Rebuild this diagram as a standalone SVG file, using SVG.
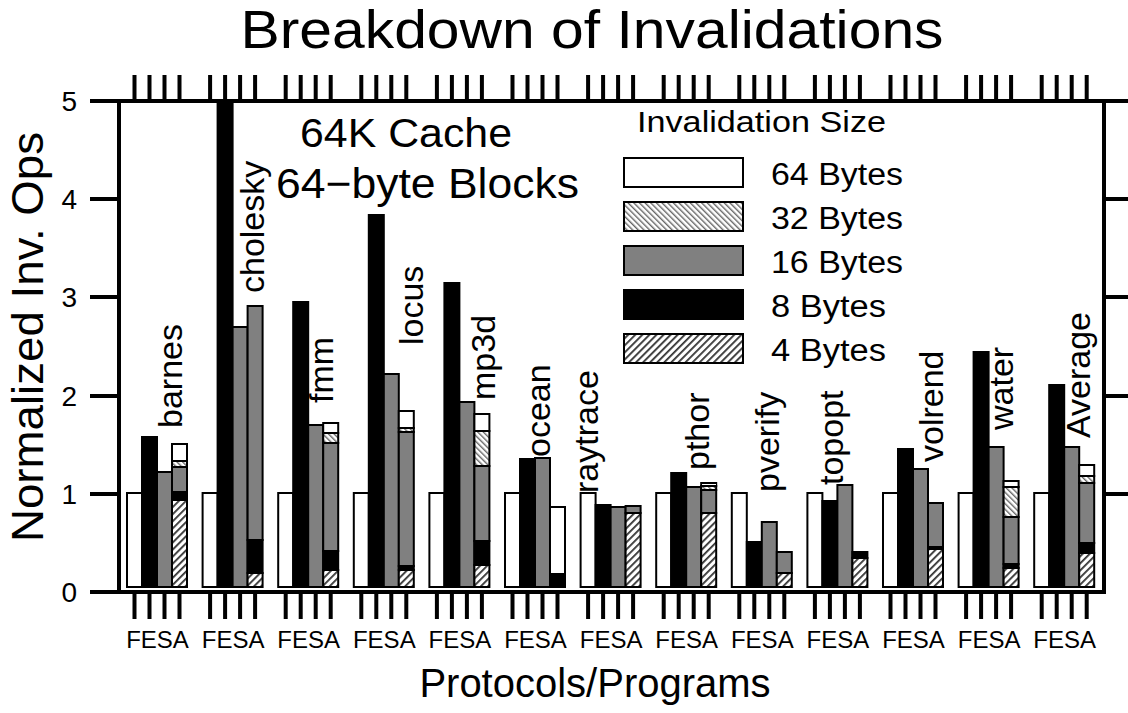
<svg xmlns="http://www.w3.org/2000/svg" xmlns:xlink="http://www.w3.org/1999/xlink" width="1128" height="713" viewBox="0 0 1128 713">
  <style>
    text { font-family: "Liberation Sans", Arial, sans-serif; fill: #000; }
    .title { font-size: 54px; text-anchor: middle; }
    .axlabel { font-size: 42px; text-anchor: middle; }
    .ticklbl { font-size: 28px; text-anchor: end; }
    .fesa { font-size: 24px; text-anchor: middle; }
    .prog { font-size: 34px; }
    .note { font-size: 40px; }
    .legtitle { font-size: 29px; }
    .legtext { font-size: 31px; }
    .axis { stroke: #000; stroke-width: 4; fill: none; }
    .tick { stroke: #000; stroke-width: 4; fill: none; }
    .w { fill: #fff; stroke: #000; stroke-width: 2; }
    .b { fill: #000; stroke: #000; stroke-width: 2; }
    .g { fill: #808080; stroke: #000; stroke-width: 2; }
    .h32 { fill: url(#hatch32); stroke: #000; stroke-width: 2; }
    .h4 { fill: url(#hatch4); stroke: #000; stroke-width: 2; }
  </style>
  <defs>
    <pattern id="hatch32" patternUnits="userSpaceOnUse" width="4" height="4" patternTransform="rotate(-45)">
      <rect width="4" height="4" fill="#fff"/>
      <rect width="1.4" height="4" fill="#666"/>
    </pattern>
    <pattern id="hatch4" patternUnits="userSpaceOnUse" width="5" height="5" patternTransform="rotate(45)">
      <rect width="5" height="5" fill="#fff"/>
      <rect width="1.8" height="5" fill="#333"/>
    </pattern>
    <!-- one tick per bar slot (F, E, S, A) -->
    <path id="tickset" class="tick" d="M7.5,0v25M22.5,0v25M37.5,0v25M52.5,0v25"/>
  </defs>

  <rect width="1128" height="713" fill="#fff"/>

  <text class="title" x="592" y="48" textLength="703" lengthAdjust="spacingAndGlyphs">Breakdown of Invalidations</text>

  <!-- frame and value axis -->
  <g id="axes">
    <path class="axis" d="M90,101H1128M119,101V594M1104,101V594M90,592H1104"/>
    <path class="tick" d="M90,199H119M90,297H119M90,396H119M90,494H119M1104,199H1128M1104,297H1128M1104,396H1128M1104,494H1128"/>
    <text class="ticklbl" x="77" y="111">5</text>
    <text class="ticklbl" x="77" y="209">4</text>
    <text class="ticklbl" x="77" y="307">3</text>
    <text class="ticklbl" x="77" y="406">2</text>
    <text class="ticklbl" x="77" y="504">1</text>
    <text class="ticklbl" x="77" y="602">0</text>
    <text class="axlabel" transform="translate(43,337) rotate(-90)" style="font-size:44px" textLength="410" lengthAdjust="spacingAndGlyphs">Normalized Inv. Ops</text>
    <text class="axlabel" x="595" y="697" style="font-size:40px">Protocols/Programs</text>
  </g>

  <!-- category ticks, top and bottom -->
  <g id="category-ticks">
    <use xlink:href="#tickset" x="127" y="75"/><use xlink:href="#tickset" x="127" y="594"/>
    <use xlink:href="#tickset" x="202.6" y="75"/><use xlink:href="#tickset" x="202.6" y="594"/>
    <use xlink:href="#tickset" x="278.2" y="75"/><use xlink:href="#tickset" x="278.2" y="594"/>
    <use xlink:href="#tickset" x="353.8" y="75"/><use xlink:href="#tickset" x="353.8" y="594"/>
    <use xlink:href="#tickset" x="429.4" y="75"/><use xlink:href="#tickset" x="429.4" y="594"/>
    <use xlink:href="#tickset" x="505" y="75"/><use xlink:href="#tickset" x="505" y="594"/>
    <use xlink:href="#tickset" x="580.6" y="75"/><use xlink:href="#tickset" x="580.6" y="594"/>
    <use xlink:href="#tickset" x="656.2" y="75"/><use xlink:href="#tickset" x="656.2" y="594"/>
    <use xlink:href="#tickset" x="731.8" y="75"/><use xlink:href="#tickset" x="731.8" y="594"/>
    <use xlink:href="#tickset" x="807.4" y="75"/><use xlink:href="#tickset" x="807.4" y="594"/>
    <use xlink:href="#tickset" x="883" y="75"/><use xlink:href="#tickset" x="883" y="594"/>
    <use xlink:href="#tickset" x="958.6" y="75"/><use xlink:href="#tickset" x="958.6" y="594"/>
    <use xlink:href="#tickset" x="1034.2" y="75"/><use xlink:href="#tickset" x="1034.2" y="594"/>
  </g>

  <!-- bar groups: F, E, S, A (A stacked by invalidation size) -->
  <g id="barnes" transform="translate(127,0)">
    <rect class="w" x="0" y="493" width="15" height="94"/>
    <rect class="b" x="15" y="437" width="15" height="150"/>
    <rect class="g" x="30" y="472" width="15" height="115"/>
    <rect class="w" x="45" y="444" width="15" height="17"/>
    <rect class="h32" x="45" y="461" width="15" height="6"/>
    <rect class="g" x="45" y="467" width="15" height="25"/>
    <rect class="b" x="45" y="492" width="15" height="8"/>
    <rect class="h4" x="45" y="500" width="15" height="87"/>
    <text class="fesa" x="30.5" y="648">FESA</text>
  </g>
  <text class="prog" transform="translate(182,428) rotate(-90)">barnes</text>

  <g id="cholesky" transform="translate(202.6,0)">
    <rect class="w" x="0" y="493" width="15" height="94"/>
    <rect class="b" x="15" y="101" width="15" height="486"/>
    <rect class="g" x="30" y="327" width="15" height="260"/>
    <rect class="g" x="45" y="306" width="15" height="234"/>
    <rect class="b" x="45" y="540" width="15" height="33"/>
    <rect class="h4" x="45" y="573" width="15" height="14"/>
    <text class="fesa" x="30.5" y="648">FESA</text>
  </g>
  <text class="prog" transform="translate(264,293) rotate(-90)">cholesky</text>

  <g id="fmm" transform="translate(278.2,0)">
    <rect class="w" x="0" y="493" width="15" height="94"/>
    <rect class="b" x="15" y="302" width="15" height="285"/>
    <rect class="g" x="30" y="425" width="15" height="162"/>
    <rect class="w" x="45" y="423" width="15" height="10"/>
    <rect class="h32" x="45" y="433" width="15" height="10"/>
    <rect class="g" x="45" y="443" width="15" height="108"/>
    <rect class="b" x="45" y="551" width="15" height="19"/>
    <rect class="h4" x="45" y="570" width="15" height="17"/>
    <text class="fesa" x="30.5" y="648">FESA</text>
  </g>
  <text class="prog" transform="translate(333,403) rotate(-90)">fmm</text>

  <g id="locus" transform="translate(353.8,0)">
    <rect class="w" x="0" y="493" width="15" height="94"/>
    <rect class="b" x="15" y="215" width="15" height="372"/>
    <rect class="g" x="30" y="374" width="15" height="213"/>
    <rect class="w" x="45" y="411" width="15" height="17"/>
    <rect class="h32" x="45" y="428" width="15" height="4"/>
    <rect class="g" x="45" y="432" width="15" height="134"/>
    <rect class="b" x="45" y="566" width="15" height="4"/>
    <rect class="h4" x="45" y="570" width="15" height="17"/>
    <text class="fesa" x="30.5" y="648">FESA</text>
  </g>
  <text class="prog" transform="translate(423,345) rotate(-90)">locus</text>

  <g id="mp3d" transform="translate(429.4,0)">
    <rect class="w" x="0" y="493" width="15" height="94"/>
    <rect class="b" x="15" y="283" width="15" height="304"/>
    <rect class="g" x="30" y="402" width="15" height="185"/>
    <rect class="w" x="45" y="414" width="15" height="17"/>
    <rect class="h32" x="45" y="431" width="15" height="35"/>
    <rect class="g" x="45" y="466" width="15" height="75"/>
    <rect class="b" x="45" y="541" width="15" height="24"/>
    <rect class="h4" x="45" y="565" width="15" height="22"/>
    <text class="fesa" x="30.5" y="648">FESA</text>
  </g>
  <text class="prog" transform="translate(495,400) rotate(-90)">mp3d</text>

  <g id="ocean" transform="translate(505,0)">
    <rect class="w" x="0" y="493" width="15" height="94"/>
    <rect class="b" x="15" y="459" width="15" height="128"/>
    <rect class="g" x="30" y="458" width="15" height="129"/>
    <rect class="w" x="45" y="507" width="15" height="67"/>
    <rect class="b" x="45" y="574" width="15" height="13"/>
    <text class="fesa" x="30.5" y="648">FESA</text>
  </g>
  <text class="prog" transform="translate(550,457) rotate(-90)">ocean</text>

  <g id="raytrace" transform="translate(580.6,0)">
    <rect class="w" x="0" y="493" width="15" height="94"/>
    <rect class="b" x="15" y="505" width="15" height="82"/>
    <rect class="g" x="30" y="507" width="15" height="80"/>
    <rect class="g" x="45" y="506" width="15" height="7"/>
    <rect class="h4" x="45" y="513" width="15" height="74"/>
    <text class="fesa" x="30.5" y="648">FESA</text>
  </g>
  <text class="prog" transform="translate(598,493) rotate(-90)">raytrace</text>

  <g id="pthor" transform="translate(656.2,0)">
    <rect class="w" x="0" y="493" width="15" height="94"/>
    <rect class="b" x="15" y="473" width="15" height="114"/>
    <rect class="g" x="30" y="487" width="15" height="100"/>
    <rect class="w" x="45" y="483" width="15" height="3"/>
    <rect class="h32" x="45" y="486" width="15" height="4"/>
    <rect class="g" x="45" y="490" width="15" height="23"/>
    <rect class="h4" x="45" y="513" width="15" height="74"/>
    <text class="fesa" x="30.5" y="648">FESA</text>
  </g>
  <text class="prog" transform="translate(709,470) rotate(-90)">pthor</text>

  <g id="pverify" transform="translate(731.8,0)">
    <rect class="w" x="0" y="493" width="15" height="94"/>
    <rect class="b" x="15" y="542" width="15" height="45"/>
    <rect class="g" x="30" y="522" width="15" height="65"/>
    <rect class="g" x="45" y="552" width="15" height="21"/>
    <rect class="h4" x="45" y="573" width="15" height="14"/>
    <text class="fesa" x="30.5" y="648">FESA</text>
  </g>
  <text class="prog" transform="translate(779,492) rotate(-90)">pverify</text>

  <g id="topopt" transform="translate(807.4,0)">
    <rect class="w" x="0" y="493" width="15" height="94"/>
    <rect class="b" x="15" y="501" width="15" height="86"/>
    <rect class="g" x="30" y="485" width="15" height="102"/>
    <rect class="b" x="45" y="552" width="15" height="6"/>
    <rect class="h4" x="45" y="558" width="15" height="29"/>
    <text class="fesa" x="30.5" y="648">FESA</text>
  </g>
  <text class="prog" transform="translate(843,485) rotate(-90)">topopt</text>

  <g id="volrend" transform="translate(883,0)">
    <rect class="w" x="0" y="493" width="15" height="94"/>
    <rect class="b" x="15" y="449" width="15" height="138"/>
    <rect class="g" x="30" y="469" width="15" height="118"/>
    <rect class="g" x="45" y="503" width="15" height="44"/>
    <rect class="b" x="45" y="547" width="15" height="2"/>
    <rect class="h4" x="45" y="549" width="15" height="38"/>
    <text class="fesa" x="30.5" y="648">FESA</text>
  </g>
  <text class="prog" transform="translate(943,462) rotate(-90)">volrend</text>

  <g id="water" transform="translate(958.6,0)">
    <rect class="w" x="0" y="493" width="15" height="94"/>
    <rect class="b" x="15" y="352" width="15" height="235"/>
    <rect class="g" x="30" y="447" width="15" height="140"/>
    <rect class="w" x="45" y="481" width="15" height="6"/>
    <rect class="h32" x="45" y="487" width="15" height="30"/>
    <rect class="g" x="45" y="517" width="15" height="47"/>
    <rect class="b" x="45" y="564" width="15" height="4"/>
    <rect class="h4" x="45" y="568" width="15" height="19"/>
    <text class="fesa" x="30.5" y="648">FESA</text>
  </g>
  <text class="prog" transform="translate(1013,430) rotate(-90)">water</text>

  <g id="average" transform="translate(1034.2,0)">
    <rect class="w" x="0" y="493" width="15" height="94"/>
    <rect class="b" x="15" y="385" width="15" height="202"/>
    <rect class="g" x="30" y="447" width="15" height="140"/>
    <rect class="w" x="45" y="465" width="15" height="11"/>
    <rect class="h32" x="45" y="476" width="15" height="7"/>
    <rect class="g" x="45" y="483" width="15" height="60"/>
    <rect class="b" x="45" y="543" width="15" height="10"/>
    <rect class="h4" x="45" y="553" width="15" height="34"/>
    <text class="fesa" x="30.5" y="648">FESA</text>
  </g>
  <text class="prog" transform="translate(1090,438) rotate(-90)">Average</text>

  <!-- configuration note -->
  <g id="note">
    <text class="note" x="300" y="147" textLength="212" lengthAdjust="spacingAndGlyphs">64K Cache</text>
    <text class="note" x="276" y="198" style="font-size:42px" textLength="303" lengthAdjust="spacingAndGlyphs">64−byte Blocks</text>
  </g>

  <!-- legend -->
  <g id="legend">
    <text class="legtitle" x="637" y="132" textLength="249" lengthAdjust="spacingAndGlyphs">Invalidation Size</text>
    <rect class="w" x="624" y="158" width="119" height="29"/>
    <rect class="h32" x="624" y="202" width="119" height="29"/>
    <rect class="g" x="624" y="246" width="119" height="29"/>
    <rect class="b" x="624" y="290" width="119" height="29"/>
    <rect class="h4" x="624" y="334" width="119" height="29"/>
    <text class="legtext" x="771" y="185" textLength="132" lengthAdjust="spacingAndGlyphs">64 Bytes</text>
    <text class="legtext" x="771" y="229" textLength="132" lengthAdjust="spacingAndGlyphs">32 Bytes</text>
    <text class="legtext" x="771" y="273" textLength="132" lengthAdjust="spacingAndGlyphs">16 Bytes</text>
    <text class="legtext" x="771" y="317" textLength="115" lengthAdjust="spacingAndGlyphs">8 Bytes</text>
    <text class="legtext" x="771" y="361" textLength="115" lengthAdjust="spacingAndGlyphs">4 Bytes</text>
  </g>
</svg>
